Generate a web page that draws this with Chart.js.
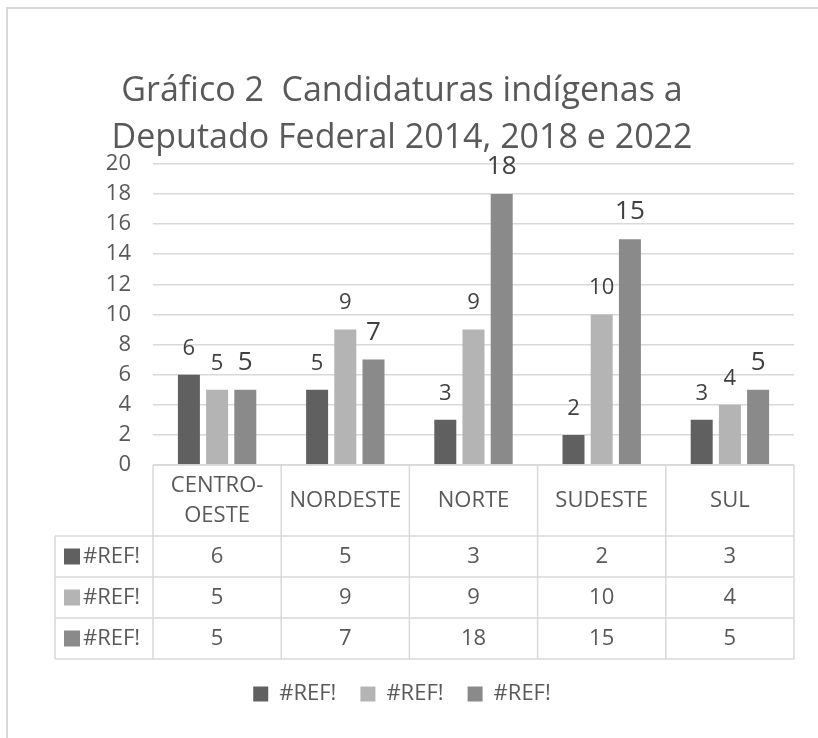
<!DOCTYPE html>
<html lang="pt">
<head>
  <meta charset="UTF-8">
  <title>Gráfico 2 Candidaturas indígenas</title>
  <script src="https://cdn.jsdelivr.net/npm/chart.js"></script>
  <style>
    html, body { margin: 0; background: #fff; overflow: hidden; }
    canvas { display: block; }
  </style>
</head>
<body>
  <canvas id="chart" width="818" height="738"></canvas>

  <script>
    // data
    const regions = [['CENTRO-', 'OESTE'], 'NORDESTE', 'NORTE', 'SUDESTE', 'SUL'];
    const seriesNames = ['#REF!', '#REF!', '#REF!'];
    const series1 = [6, 5, 3, 2, 3];
    const series2 = [5, 9, 9, 10, 4];
    const series3 = [5, 7, 18, 15, 5];
    const titleLines = ['Gráfico 2  Candidaturas indígenas a', 'Deputado Federal 2014, 2018 e 2022'];

    const colors = ['#606060', '#b4b4b4', '#8a8a8a'];
    const labelSizes = [22, 22, 26];
    const font = '"Open Sans", "Noto Sans", sans-serif';
    const gridColor = '#d9d9d9';
    const textColor = '#595959';

    // header row height + 3 value rows
    const headerH = 71;
    const rowH = 41;
    const firstColW = 98;

    // light frame at the top and left, like the pasted chart
    const framePlugin = {
      id: 'frame',
      beforeDraw(chart) {
        const ctx = chart.ctx;
        ctx.save();
        ctx.strokeStyle = '#d9d9d9';
        ctx.lineWidth = 2;
        ctx.beginPath();
        ctx.moveTo(7, chart.height);
        ctx.lineTo(7, 8);
        ctx.lineTo(chart.width, 8);
        ctx.stroke();
        ctx.restore();
      }
    };

    // value labels above each bar
    const valueLabels = {
      id: 'valueLabels',
      afterDatasetsDraw(chart) {
        const ctx = chart.ctx;
        ctx.save();
        ctx.fillStyle = '#404040';
        ctx.textAlign = 'center';
        ctx.textBaseline = 'alphabetic';
        chart.data.datasets.forEach((ds, i) => {
          ctx.font = labelSizes[i] + 'px ' + font;
          chart.getDatasetMeta(i).data.forEach((bar, j) => {
            ctx.fillText(ds.data[j], bar.x, bar.y - 20);
          });
        });
        ctx.restore();
      }
    };

    // data table under the plot
    const dataTable = {
      id: 'dataTable',
      afterDraw(chart) {
        const ctx = chart.ctx;
        const x = chart.scales.x;
        const area = chart.chartArea;
        const n = chart.data.labels.length;
        const colW = (area.right - area.left) / n;
        const top = area.bottom;
        const left = area.left - firstColW;
        const bottom = top + headerH + rowH * 3;

        ctx.save();
        ctx.strokeStyle = gridColor;
        ctx.lineWidth = 1.5;
        ctx.beginPath();
        // horizontal lines
        ctx.moveTo(area.left, top); ctx.lineTo(area.right, top);
        for (let r = 0; r <= 3; r++) {
          const y = top + headerH + r * rowH;
          ctx.moveTo(left, y); ctx.lineTo(area.right, y);
        }
        // vertical lines
        for (let c = 0; c <= n; c++) {
          const cx = area.left + c * colW;
          ctx.moveTo(cx, top); ctx.lineTo(cx, bottom);
        }
        ctx.moveTo(left, top + headerH); ctx.lineTo(left, bottom);
        ctx.stroke();

        ctx.fillStyle = textColor;
        ctx.textAlign = 'center';
        ctx.textBaseline = 'middle';
        ctx.font = '22px ' + font;

        // header labels
        chart.data.labels.forEach((lab, i) => {
          const cx = x.getPixelForValue(i);
          const lines = Array.isArray(lab) ? lab : [lab];
          const lh = 30;
          const y0 = top + headerH / 2 - (lines.length - 1) * lh / 2;
          lines.forEach((t, k) => ctx.fillText(t, cx, y0 + k * lh));
        });

        // rows
        chart.data.datasets.forEach((ds, r) => {
          const cy = top + headerH + r * rowH + rowH / 2;
          ctx.fillStyle = ds.backgroundColor;
          ctx.fillRect(left + 9, cy - 8, 16, 16);
          ctx.fillStyle = textColor;
          ctx.textAlign = 'left';
          ctx.fillText(ds.label, left + 28, cy);
          ctx.textAlign = 'center';
          ds.data.forEach((v, i) => ctx.fillText(v, x.getPixelForValue(i), cy));
        });
        ctx.restore();
      }
    };

    const ctx = document.getElementById('chart').getContext('2d');
    new Chart(ctx, {
      type: 'bar',
      data: {
        labels: regions,
        datasets: [series1, series2, series3].map((d, i) => ({
          label: seriesNames[i],
          data: d,
          backgroundColor: colors[i],
          categoryPercentage: 0.66,
          barPercentage: 0.78
        }))
      },
      options: {
        responsive: false,
        animation: false,
        devicePixelRatio: 1,
        layout: { padding: { top: 10, left: 10, right: 24, bottom: 23 } },
        plugins: {
          title: {
            display: true,
            text: titleLines,
            color: textColor,
            font: { family: font, size: 34, weight: 'normal', lineHeight: 1.38 },
            padding: { top: 58, bottom: 2 }
          },
          legend: {
            position: 'bottom',
            labels: {
              color: textColor,
              font: { family: font, size: 22 },
              boxWidth: 15,
              boxHeight: 15,
              padding: 24
            }
          },
          tooltip: { enabled: false }
        },
        scales: {
          x: {
            grid: { display: false },
            border: { display: false },
            ticks: { display: false },
            afterFit(s) { s.height = headerH + rowH * 3; }
          },
          y: {
            min: 0,
            max: 20,
            ticks: {
              stepSize: 2,
              color: textColor,
              padding: 22,
              font: { family: font, size: 22 }
            },
            grid: { color: gridColor, lineWidth: 1.5, drawTicks: false },
            border: { display: false },
            afterFit(s) { s.width = 143; }
          }
        }
      },
      plugins: [framePlugin, valueLabels, dataTable]
    });
  </script>
</body>
</html>
